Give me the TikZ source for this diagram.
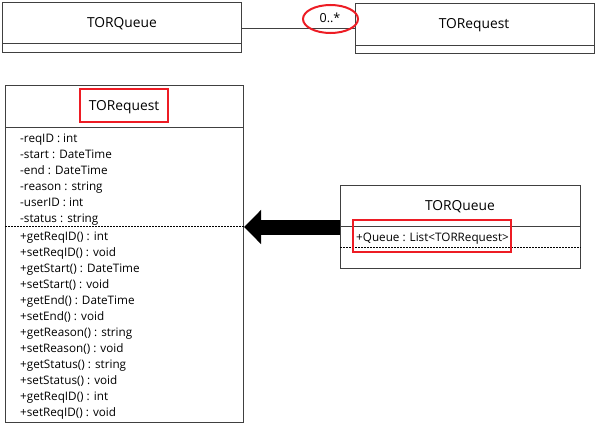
\documentclass[tikz,border=0pt]{standalone}
\usepackage{fontspec}
\setmainfont{Open Sans}
\usetikzlibrary{arrows.meta}
\definecolor{markred}{RGB}{237,28,36}
\tikzset{
  classbox/.style={rectangle, draw=black!75, line width=1pt, fill=white, anchor=north west, inner sep=0pt},
  classname/.style={anchor=base, inner sep=0pt, font=\fontsize{13.8}{16}\selectfont},
  member/.style={anchor=base west, inner sep=0pt, font=\fontsize{11.7}{16}\selectfont},
  sep/.style={draw=black!75, line width=1pt},
  dsep/.style={draw=black, line width=1pt, dash pattern=on 2pt off 1pt},
  highlight/.style={draw=markred, line width=2pt},
  fatarrow/.style={line width=15pt, -{Triangle[length=17pt,width=33pt]}},
}
\begin{document}
\begin{tikzpicture}[x=1pt,y=-1pt]
\useasboundingbox (0,0) rectangle (596,431);
% association at the top
\node (tq) at (2,2) [classbox, minimum width=239pt, minimum height=50pt] {};
\node (tr) at (355,3) [classbox, minimum width=239pt, minimum height=50pt] {};
\node (tqname) at (122,27) [classname] {TORQueue};
\node (trname) at (474,28.5) [classname] {TORequest};
\draw[sep] (tq.west |- 0,43) -- (tq.east |- 0,43);
\draw[sep] (tr.west |- 0,45) -- (tr.east |- 0,45);
\draw[sep] (tq.east |- tr.west) -- (tr.west);
\node (mult) at (330,22.5) [classname, font=\fontsize{12.5}{14}\selectfont] {0..*};
\draw[highlight] (330.5,19) ellipse [x radius=27.5pt, y radius=14pt];
% TORequest class
\node (reqbox) at (5,85) [classbox, minimum width=238pt, minimum height=337pt] {};
\node (reqname) at (124,110.5) [classname] {TORequest};
\draw[sep] (reqbox.west |- 0,127) -- (reqbox.east |- 0,127);
\foreach \t [count=\i] in {-reqID : int, -start : DateTime, -end : DateTime,
    -reason : string, -userID : int, -status : string}
  \node (attr\i) at (20,126+16*\i) [member] {\t};
\draw[dsep] (reqbox.west |- 0,226) -- (reqbox.east |- 0,226);
\foreach \t [count=\i] in {+getReqID() : int, +setReqID() : void, +getStart() : DateTime,
    +setStart() : void, +getEnd() : DateTime, +setEnd() : void,
    +getReason() : string, +setReason() : void, +getStatus() : string,
    +setStatus() : void, +getReqID() : int, +setReqID() : void}
  \node (op\i) at (20,224+16*\i) [member] {\t};
\draw[highlight] (80,89) rectangle (168,122);
% TORQueue class
\node (qbox) at (340,185) [classbox, minimum width=240pt, minimum height=83pt] {};
\node (qname) at (460,210) [classname] {TORQueue};
\draw[sep] (qbox.west |- 0,226) -- (qbox.east |- 0,226);
\node (qattr) at (356,241.5) [member] {+Queue : List<TORRequest>};
\draw[dsep] (qbox.west |- 0,247) -- (qbox.east |- 0,247);
\draw[highlight] (353,220) rectangle (511,252);
% dependency arrow
\draw[fatarrow] (qbox.west) -- (reqbox.east |- qbox.west);
\end{tikzpicture}
\end{document}
